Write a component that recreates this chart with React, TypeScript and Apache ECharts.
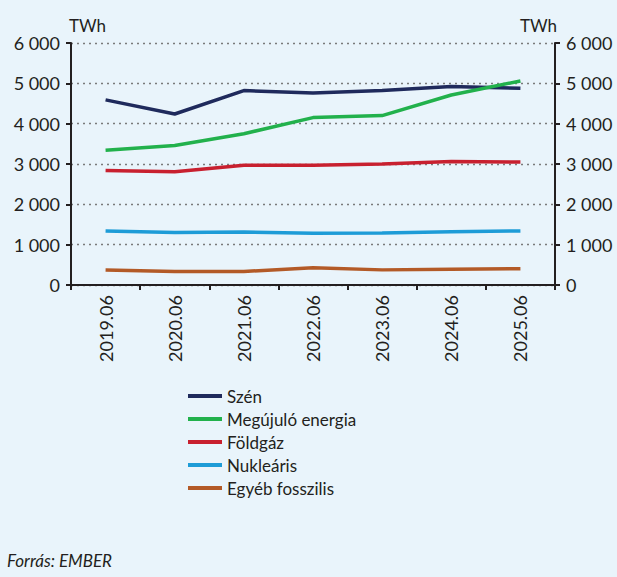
import React, { useEffect, useRef } from "react";
import * as echarts from "echarts";

const categories = ["2019.06", "2020.06", "2021.06", "2022.06", "2023.06", "2024.06", "2025.06"];
const szen = [4590, 4240, 4820, 4760, 4820, 4920, 4880];
const megujulo = [3340, 3460, 3750, 4150, 4200, 4710, 5060];
const foldgaz = [2840, 2810, 2970, 2970, 3000, 3060, 3050];
const nuklearis = [1340, 1300, 1315, 1285, 1290, 1320, 1340];
const egyeb = [370, 335, 335, 430, 375, 390, 405];
const yTicks = [0, 1000, 2000, 3000, 4000, 5000, 6000];

const FONT = "Lato";
const INK = "#231f20";

const fmt = (v: number) => {
  const s = String(Math.round(v));
  return s.length > 3 ? s.slice(0, s.length - 3) + " " + s.slice(-3) : s;
};

export default function App() {
  const ref = useRef<HTMLDivElement>(null);
  useEffect(() => {
    const chart = echarts.init(ref.current!, null, { renderer: "svg" });
    const yAxisBase = (pos: "left" | "right") => ({
      type: "value" as const,
      position: pos,
      min: yTicks[0],
      max: yTicks[yTicks.length - 1],
      interval: 1000,
      name: "TWh",
      nameLocation: "end" as const,
      nameGap: 9,
      nameTextStyle: {
        color: INK,
        fontFamily: FONT,
        fontSize: 17,
        align: pos === "left" ? "left" : "right",
        padding: pos === "left" ? [0, 0, 0, -2] : [0, -2, 0, 0],
      },
      axisLine: { show: true, lineStyle: { color: INK, width: 2 } },
      axisTick: { show: true, length: 5, lineStyle: { color: INK, width: 2 } },
      axisLabel: {
        color: INK,
        fontFamily: FONT,
        fontSize: 18,
        margin: 11,
        formatter: (v: number) => fmt(v),
      },
      splitLine:
        pos === "left"
          ? { show: true, lineStyle: { color: "#7a7a7a", width: 1.3, type: [2, 4] } }
          : { show: false },
    });
    const mk = (name: string, data: number[], color: string) => ({
      name,
      type: "line" as const,
      data,
      symbol: "none",
      lineStyle: { color, width: 3.5 },
      itemStyle: { color },
      z: 3,
    });
    chart.setOption({
      animation: false,
      backgroundColor: "#e9f4fb",
      grid: { left: 71, right: 62, top: 43, bottom: 292, containLabel: false },
      xAxis: {
        type: "category",
        data: categories,
        boundaryGap: true,
        axisLine: { show: true, lineStyle: { color: INK, width: 2 } },
        axisTick: { show: true, length: 5, alignWithLabel: false, lineStyle: { color: INK, width: 2 } },
        axisLabel: { color: INK, fontFamily: FONT, fontSize: 18, rotate: 90, margin: 10, interval: 0 },
        splitLine: { show: false },
      },
      yAxis: [yAxisBase("left"), yAxisBase("right")],
      legend: {
        orient: "vertical",
        left: 183,
        top: 381,
        itemWidth: 34,
        itemHeight: 4,
        itemGap: 3,
        icon: "rect",
        textStyle: { color: INK, fontFamily: FONT, fontSize: 17, lineHeight: 20 },
        data: ["Szén", "Megújuló energia", "Földgáz", "Nukleáris", "Egyéb fosszilis"],
      },
      series: [
        mk("Szén", szen, "#1f2a5c"),
        mk("Megújuló energia", megujulo, "#22b14c"),
        mk("Földgáz", foldgaz, "#c8202f"),
        mk("Nukleáris", nuklearis, "#1e9cd7"),
        mk("Egyéb fosszilis", egyeb, "#b35a27"),
      ],
      graphic: [
        {
          type: "text",
          left: 7,
          top: 552,
          style: { text: "Forrás: EMBER", fill: INK, font: `italic 17px ${FONT}` },
        },
      ],
    });
    return () => chart.dispose();
  }, []);
  return (
    <div
      ref={ref}
      style={{ position: "fixed", left: 0, top: 0, width: 617, height: 577 }}
    />
  );
}
